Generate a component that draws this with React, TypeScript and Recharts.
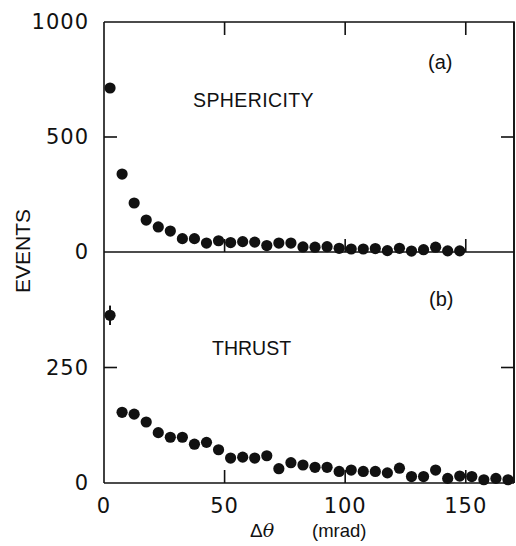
import React from 'react';
import { ScatterChart, Scatter, XAxis, YAxis, ErrorBar, ReferenceLine } from 'recharts';

// Δθ bin centres (mrad)
const sphericityX = [2.5, 7.5, 12.5, 17.5, 22.5, 27.5, 32.5, 37.5, 42.5, 47.5, 52.5, 57.5, 62.5, 67.5, 72.5, 77.5, 82.5, 87.5, 92.5, 97.5, 102.5, 107.5, 112.5, 117.5, 122.5, 127.5, 132.5, 137.5, 142.5, 147.5];
const sphericityEvents = [713, 339, 213, 139, 109, 91, 58, 58, 39, 49, 41, 45, 43, 28, 39, 39, 22, 21, 23, 16, 13, 13, 15, 6, 16, 4, 10, 21, 5, 5];

const thrustX = [2.5, 7.5, 12.5, 17.5, 22.5, 27.5, 32.5, 37.5, 42.5, 47.5, 52.5, 57.5, 62.5, 67.5, 72.5, 77.5, 82.5, 87.5, 92.5, 97.5, 102.5, 107.5, 112.5, 117.5, 122.5, 127.5, 132.5, 137.5, 142.5, 147.5, 152.5, 157.5, 162.5, 167.5];
const thrustEvents = [363, 153, 149, 132, 109, 99, 99, 84, 88, 72, 54, 56, 54, 59, 31, 44, 39, 34, 34, 25, 28, 25, 25, 22, 32, 14, 14, 28, 10, 15, 14, 7, 10, 7];
const thrustErr = [21, 7, 0, 0, 0, 0, 0, 0, 0, 0, 0, 0, 0, 0, 0, 0, 0, 0, 0, 0, 0, 0, 0, 0, 0, 0, 0, 0, 0, 0, 0, 0, 0, 0];

const xTicks = [0, 50, 100, 150];
const topYTicks = [0, 500, 1000];
const bottomYTicks = [0, 250];

// inward tick marks (value positions on each panel's scale)
const topPanelXTickMarks = [50, 100, 150];
const topPanelYMid = 500;
const botPanelYMid = 250;

// layout: one plot area 461px high; upper panel 230px (0..1000), lower panel 231px (0..500)
const PLOT_W = 410;
const PLOT_H = 461;
const TOP_H = 230;
const BOT_H = 231;
const X_MAX = 170;
const topDomain = [-1000 * BOT_H / TOP_H, 1000];
const botDomain = [0, 500 * PLOT_H / BOT_H];

const sphericityData = sphericityX.map((x, i) => ({ x, y: sphericityEvents[i] }));
const thrustData = thrustX.map((x, i) => ({ x, y: thrustEvents[i], err: thrustErr[i] }));

// tick-mark anchor points, placed through the chart's scales
const topTickMarks = [
  ...topPanelXTickMarks.map((x) => ({ x, y: 1000, d: 'down' })),
  ...topPanelXTickMarks.map((x) => ({ x, y: 0, d: 'up' })),
  { x: 0, y: topPanelYMid, d: 'right' },
  { x: X_MAX, y: topPanelYMid, d: 'left' },
];
const botTickMarks = [
  ...topPanelXTickMarks.map((x) => ({ x, y: 0, d: 'up' })),
  { x: 0, y: botPanelYMid, d: 'right' },
  { x: X_MAX, y: botPanelYMid, d: 'left' },
];
const frameCorner = [{ x: X_MAX, y: 1000 }];

const INK = '#111111';
const TICK = 13;
const TS = 6;
const SW = 1.6;
const axisLine = { stroke: INK, strokeWidth: SW };

const Dot = (props: any) => <circle cx={props.cx} cy={props.cy} r={5.6} fill={INK} />;

const TickMark = (props: any) => {
  const { cx, cy, payload } = props;
  const d = payload.d;
  let x2 = cx, y2 = cy;
  if (d === 'up') y2 = cy - TICK;
  if (d === 'down') y2 = cy + TICK;
  if (d === 'right') x2 = cx + TICK;
  if (d === 'left') x2 = cx - TICK;
  return <path d={`M${cx},${cy}L${x2},${y2}`} stroke={INK} strokeWidth={SW} fill="none" />;
};

// top-right corner of the frame: top and right borders
const Frame = (props: any) => {
  const { cx, cy } = props;
  return <path d={`M${cx - PLOT_W},${cy}L${cx},${cy}L${cx},${cy + PLOT_H}`} stroke={INK} strokeWidth={SW} fill="none" />;
};

const label = (x: number, y: number, v: any, anchor: string, dy: string) => (
  <text x={x} y={y} dy={dy} textAnchor={anchor} fontSize={21} fill={INK} stroke="none" fontFamily="DejaVu Sans" letterSpacing={1}>{v}</text>
);

const TopYTick = (props: any) => {
  const { x, y, payload } = props;
  return label(x + TS - 15, y, payload.value, 'end', '0.355em');
};

const BotYTick = (props: any) => {
  const { x, y, payload } = props;
  return label(x - TS - PLOT_W - 15, y, payload.value, 'end', '0.355em');
};

const XTick = (props: any) => {
  const { x, y, payload } = props;
  return label(x, y - TS + 15, payload.value, 'middle', '0.71em');
};

export default function App() {
  return (
    <div style={{ position: 'absolute', left: 0, top: 0, width: 516, height: 546, background: '#fff' }}>
      <svg width={516} height={546} style={{ position: 'absolute', left: 0, top: 0 }}>
        <g fill={INK} fontFamily="Liberation Sans">
          <text x={193} y={107} fontSize={19.5} letterSpacing={0.4}>SPHERICITY</text>
          <text x={428} y={69} fontSize={20}>(a)</text>
          <text x={212} y={355} fontSize={19.5}>THRUST</text>
          <text x={429} y={306} fontSize={20}>(b)</text>
          <text x={30} y={251} fontSize={21} textAnchor="middle" transform="rotate(-90 30 251)">EVENTS</text>
          <text x={250} y={537} fontSize={19}>
            <tspan>Δ</tspan><tspan fontStyle="italic" fontFamily="DejaVu Serif">θ</tspan>
          </text>
          <text x={312} y={537} fontSize={18.5}>(mrad)</text>
        </g>
      </svg>
      <div style={{ position: 'absolute', left: 0, top: 0 }}>
        <ScatterChart width={516} height={546} margin={{ top: 22, right: 1, bottom: 0, left: 0 }}>
          <XAxis type="number" dataKey="x" domain={[0, X_MAX]} ticks={xTicks} height={63}
            tickSize={TS} tickMargin={0} tickLine={false} tick={<XTick />} axisLine={axisLine} />
          <YAxis yAxisId="top" orientation="left" type="number" dataKey="y" domain={topDomain} ticks={topYTicks} width={104}
            tickSize={TS} tickMargin={0} tickLine={false} tick={<TopYTick />} axisLine={axisLine} />
          <YAxis yAxisId="bot" orientation="right" type="number" dataKey="y" domain={botDomain} ticks={bottomYTicks} width={1}
            tickSize={TS} tickMargin={0} tickLine={false} tick={<BotYTick />} axisLine={axisLine} />
          <ReferenceLine yAxisId="top" y={0} stroke={INK} strokeWidth={SW} ifOverflow="visible" />
          <Scatter yAxisId="top" data={frameCorner} shape={Frame} isAnimationActive={false} />
          <Scatter yAxisId="top" data={topTickMarks} shape={TickMark} isAnimationActive={false} />
          <Scatter yAxisId="bot" data={botTickMarks} shape={TickMark} isAnimationActive={false} />
          <Scatter yAxisId="top" data={sphericityData} shape={Dot} isAnimationActive={false} />
          <Scatter yAxisId="bot" data={thrustData} shape={Dot} isAnimationActive={false}>
            <ErrorBar dataKey="err" direction="y" width={0} stroke={INK} strokeWidth={2} />
          </Scatter>
        </ScatterChart>
      </div>
    </div>
  );
}
